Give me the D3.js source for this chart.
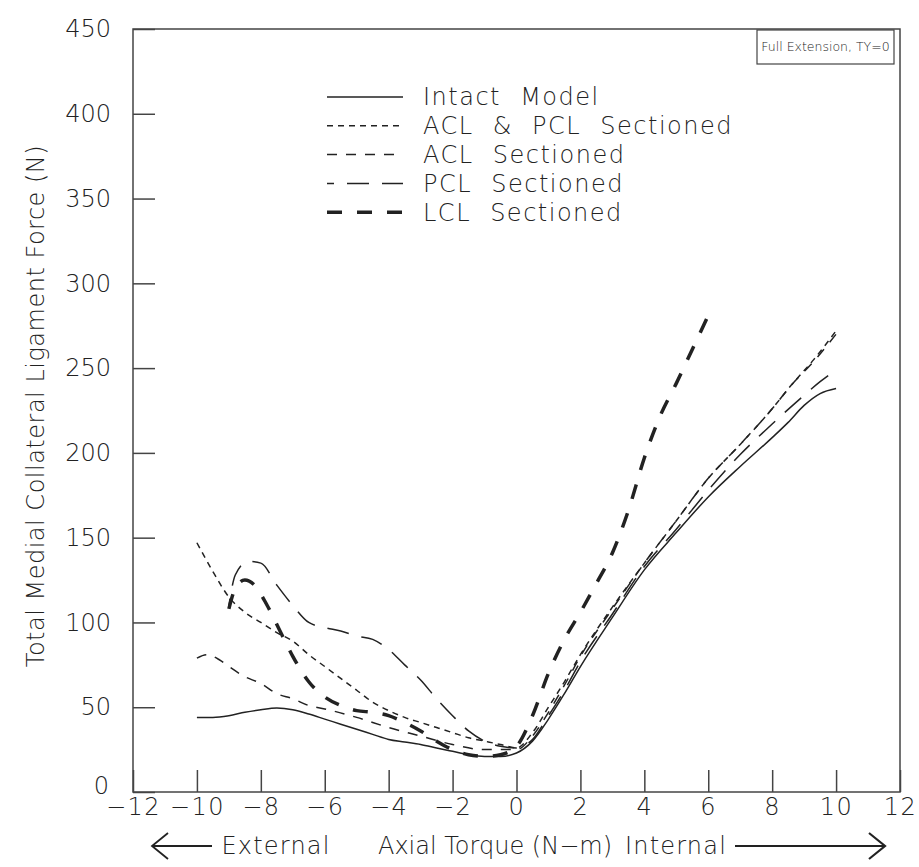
<!DOCTYPE html>
<meta charset="utf-8">
<style>
body {
  margin: 0;
  background: #fff;
}
text {
  font-family: "DejaVu Sans", sans-serif;
  font-weight: 200;
  fill: #222;
}
.frame, .tick line {
  fill: none;
  stroke: #444;
  stroke-width: 1.5;
}
</style>
<body>
<script src="https://cdn.jsdelivr.net/npm/d3@7"></script>
<script>

// MCL force vs axial torque, full extension
var width = 919,
    height = 867;

var xTicks = [-12, -10, -8, -6, -4, -2, 0, 2, 4, 6, 8, 10, 12];
var yTicks = [0, 50, 100, 150, 200, 250, 300, 350, 400, 450];

var intactX = [-10, -9.5, -9, -8.5, -8, -7.5, -7, -6.5, -6, -5.5, -5, -4.5, -4, -3.5, -3, -2.5, -2, -1.5, -1, -0.5, 0, 0.5, 1, 1.5, 2, 3, 4, 5, 6, 7, 8, 8.5, 9, 9.5, 10];
var intactY = [44, 44, 45, 47, 48.5, 49.5, 48.5, 46, 43, 40, 37, 34, 31, 29.5, 28, 26, 24, 22, 21, 21, 23, 30, 43, 58, 74, 103, 131, 153, 174, 192, 209, 218, 228, 235, 238];

var aclPclX = [-10, -9.5, -9, -8.5, -8, -7.5, -7, -6.5, -6, -5.5, -5, -4.5, -4, -3.5, -3, -2.5, -2, -1.5, -1, -0.5, 0, 0.5, 1, 1.5, 2, 3, 4, 5, 6, 7, 8, 8.6, 9.3, 10];
var aclPclY = [147, 130, 115, 106, 100, 94, 89, 81, 74, 67, 60, 53, 48, 44, 41, 38, 35, 32, 30, 28, 26, 35, 50, 65, 81, 109, 135, 160, 185, 205, 226, 240, 255, 272];

var aclX = [-10, -9.7, -9.3, -9, -8.5, -8, -7.5, -7, -6.5, -6, -5, -4, -3, -2, -1, 0, 0.5, 1, 1.5, 2, 3, 4, 5, 6, 7, 8, 8.6, 9.3, 10];
var aclY = [79, 81, 78, 74, 68, 64, 58, 55, 51, 49, 44, 38, 33, 28, 25, 25, 33, 47, 63, 80, 108, 135, 160, 185, 205, 226, 240, 254, 270];

var pclX = [-9, -8.8, -8.4, -8, -7.5, -7, -6.5, -6, -5.5, -5, -4.5, -4, -3.5, -3, -2.5, -2, -1.5, -1, -0.5, 0, 0.5, 1, 1.5, 2, 3, 4, 5, 6, 7, 8, 9, 9.5, 10];
var pclY = [110, 128, 136, 135, 122, 110, 100, 97, 95, 92, 90, 84, 75, 66, 55, 45, 36, 30, 27, 26, 31, 45, 60, 77, 105, 133, 155, 178, 199, 217, 234, 242, 249];

var lclX = [-9, -8.8, -8.5, -8.2, -7.8, -7.4, -7, -6.5, -6, -5.5, -5, -4.5, -4, -3.5, -3, -2.5, -2, -1.5, -1, -0.5, 0, 0.5, 1, 1.5, 2, 2.5, 3, 3.5, 4, 4.5, 5, 5.5, 6];
var lclY = [108, 120, 125, 122, 110, 95, 80, 65, 56, 51, 48, 47, 45, 41, 36, 30, 25, 22, 21, 22, 27, 45, 70, 90, 106, 123, 141, 166, 197, 222, 241, 261, 281];

var seriesNames = ["Intact Model", "ACL & PCL Sectioned", "ACL Sectioned", "PCL Sectioned", "LCL Sectioned"];

var series = [
  { name: seriesNames[0], xs: intactX, ys: intactY, dash: null, w: 1.5, off: 0 },
  { name: seriesNames[1], xs: aclPclX, ys: aclPclY, dash: "6,5", w: 1.5, off: 0 },
  { name: seriesNames[2], xs: aclX, ys: aclY, dash: "10,9", w: 1.5, off: 0 },
  { name: seriesNames[3], xs: pclX, ys: pclY, dash: "22,13", w: 1.5, off: 15 },
  { name: seriesNames[4], xs: lclX, ys: lclY, dash: "15,15", w: 3.5, off: 0 }
];

var x = d3.scaleLinear().domain([-12, 12]).range([133, 900]);
var y = d3.scaleLinear().domain([0, 450]).range([792, 29]);

var svg = d3.select("body").append("svg")
    .attr("width", width)
    .attr("height", height);

// axes with inward ticks
var xAxis = svg.append("g")
    .attr("transform", "translate(0," + y(0) + ")")
    .call(d3.axisBottom(x).tickValues(xTicks).tickSizeInner(-22).tickSizeOuter(0).tickPadding(6));
xAxis.select(".domain").remove();
xAxis.selectAll("text")
    .attr("font-size", 24)
    .attr("letter-spacing", 1.5)
    .attr("fill", "#222");

var yAxis = svg.append("g")
    .attr("transform", "translate(" + x(-12) + ",0)")
    .call(d3.axisLeft(y).tickValues(yTicks).tickSizeInner(-22).tickSizeOuter(0).tickPadding(22));
yAxis.select(".domain").remove();
yAxis.selectAll("text")
    .attr("font-size", 24)
    .attr("fill", "#222");
// the zero label sits a little high, clear of the -12 below it
yAxis.selectAll(".tick").filter(function(d) { return d === 0; }).select("text")
    .attr("x", -24)
    .attr("y", -6);

svg.append("rect")
    .attr("class", "frame")
    .attr("x", x(-12))
    .attr("y", y(450))
    .attr("width", x(12) - x(-12))
    .attr("height", y(0) - y(450));

var line = d3.line()
    .x(function(d) { return x(d[0]); })
    .y(function(d) { return y(d[1]); })
    .curve(d3.curveMonotoneX);

svg.selectAll(".series")
    .data(series)
  .enter().append("path")
    .attr("class", "series")
    .attr("d", function(s) { return line(d3.zip(s.xs, s.ys)); })
    .attr("fill", "none")
    .attr("stroke", "#222")
    .attr("stroke-width", function(s) { return s.w; })
    .attr("stroke-dasharray", function(s) { return s.dash; })
    .attr("stroke-dashoffset", function(s) { return s.off; });

// legend
var legend = svg.append("g");
var rows = legend.selectAll("g")
    .data(series)
  .enter().append("g")
    .attr("transform", function(s, i) { return "translate(327," + (97 + i * 28.8) + ")"; });

rows.append("line")
    .attr("x1", 0)
    .attr("x2", 76)
    .attr("stroke", "#222")
    .attr("stroke-width", function(s) { return s.w; })
    .attr("stroke-dasharray", function(s) { return s.dash; })
    .attr("stroke-dashoffset", function(s) { return s.off; });

rows.append("text")
    .attr("x", 96)
    .attr("dy", "0.35em")
    .attr("font-size", 24)
    .attr("letter-spacing", 1.5)
    .attr("word-spacing", 10)
    .text(function(s) { return s.name; });

// condition box
svg.append("rect")
    .attr("x", 757)
    .attr("y", 30)
    .attr("width", 137)
    .attr("height", 34)
    .attr("fill", "none")
    .attr("stroke", "#444")
    .attr("stroke-width", 1.2);

svg.append("text")
    .attr("x", 825.5)
    .attr("y", 47)
    .attr("dy", "0.35em")
    .attr("text-anchor", "middle")
    .attr("font-size", 12.5)
    .text("Full Extension, TY=0");

// y title
svg.append("text")
    .attr("transform", "translate(36,406) rotate(-90)")
    .attr("text-anchor", "middle")
    .attr("dy", "0.35em")
    .attr("font-size", 24)
    .attr("letter-spacing", 0.5)
    .text("Total Medial Collateral Ligament Force (N)");

// x title with arrows
var xt = svg.append("g").attr("transform", "translate(0,846)");
xt.append("text").attr("x", 276).attr("dy", "0.35em").attr("text-anchor", "middle")
    .attr("font-size", 24).attr("letter-spacing", 1.2).text("External");
xt.append("text").attr("x", 495).attr("dy", "0.35em").attr("text-anchor", "middle")
    .attr("font-size", 24).text("Axial Torque (N\u2212m)");
xt.append("text").attr("x", 676).attr("dy", "0.35em").attr("text-anchor", "middle")
    .attr("font-size", 24).attr("letter-spacing", 1.2).text("Internal");

xt.append("path")
    .attr("d", "M212,0H152M168,-13L152,0L168,13")
    .attr("fill", "none").attr("stroke", "#222").attr("stroke-width", 1.8);
xt.append("path")
    .attr("d", "M735,0H885M869,-13L885,0L869,13")
    .attr("fill", "none").attr("stroke", "#222").attr("stroke-width", 2.2);

</script>
